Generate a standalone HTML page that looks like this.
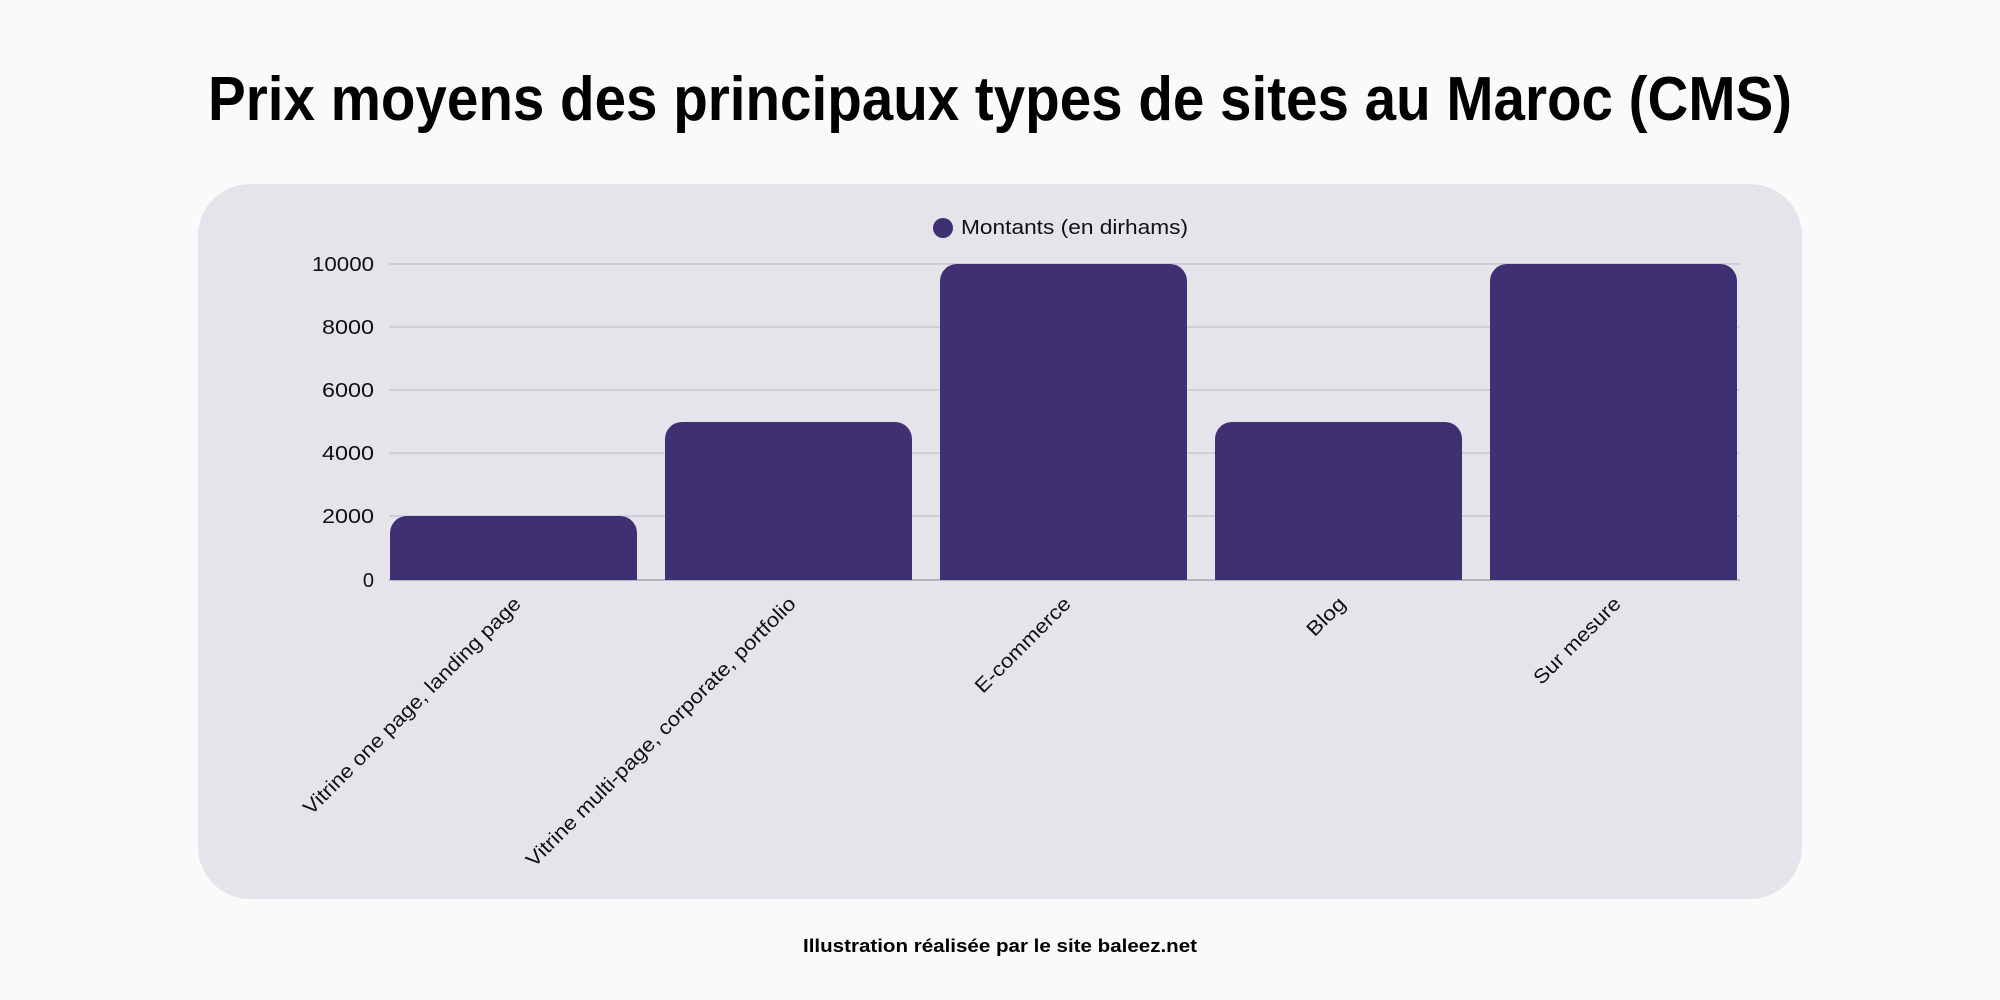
<!DOCTYPE html>
<html><head><meta charset="utf-8"><style>
html,body{margin:0;padding:0;background:#fafafa;}
svg{display:block;}
</style></head><body>
<svg width="2000" height="1000" xmlns="http://www.w3.org/2000/svg" font-family="Liberation Sans, sans-serif">
<rect width="2000" height="1000" fill="#fafafa"/>
<text x="1000" y="120" text-anchor="middle" font-size="62" font-weight="bold" fill="#000" textLength="1584" lengthAdjust="spacingAndGlyphs">Prix moyens des principaux types de sites au Maroc (CMS)</text>
<rect x="198" y="184" width="1604" height="715" rx="52" fill="#e5e4eb"/>
<circle cx="943" cy="228" r="10" fill="#3f3073"/>
<text x="961" y="234" font-size="20" fill="#111" textLength="227" lengthAdjust="spacingAndGlyphs">Montants (en dirhams)</text>
<g stroke="#c2c1ca" stroke-width="1.2">
<line x1="389" y1="264" x2="1740" y2="264"/>
<line x1="389" y1="327" x2="1740" y2="327"/>
<line x1="389" y1="390" x2="1740" y2="390"/>
<line x1="389" y1="453" x2="1740" y2="453"/>
<line x1="389" y1="516" x2="1740" y2="516"/>
<line x1="389" y1="580" x2="1740" y2="580" stroke="#9a99a3"/>
</g>
<g font-size="20" fill="#111" text-anchor="end">
<text x="374" y="271" textLength="62" lengthAdjust="spacingAndGlyphs">10000</text>
<text x="374" y="334" textLength="52" lengthAdjust="spacingAndGlyphs">8000</text>
<text x="374" y="397" textLength="52" lengthAdjust="spacingAndGlyphs">6000</text>
<text x="374" y="460" textLength="52" lengthAdjust="spacingAndGlyphs">4000</text>
<text x="374" y="523" textLength="52" lengthAdjust="spacingAndGlyphs">2000</text>
<text x="374" y="587">0</text>
</g>
<g fill="#3f3073">
<path d="M390 580 V533 a17 17 0 0 1 17 -17 H620 a17 17 0 0 1 17 17 V580 Z"/>
<path d="M665 580 V439 a17 17 0 0 1 17 -17 H895 a17 17 0 0 1 17 17 V580 Z"/>
<path d="M940 580 V281 a17 17 0 0 1 17 -17 H1170 a17 17 0 0 1 17 17 V580 Z"/>
<path d="M1215 580 V439 a17 17 0 0 1 17 -17 H1445 a17 17 0 0 1 17 17 V580 Z"/>
<path d="M1490 580 V281 a17 17 0 0 1 17 -17 H1720 a17 17 0 0 1 17 17 V580 Z"/>
</g>
<g font-size="20" fill="#111" text-anchor="end">
<text transform="translate(522,605) rotate(-45)" textLength="298" lengthAdjust="spacingAndGlyphs">Vitrine one page, landing page</text>
<text transform="translate(797,605) rotate(-45)" textLength="372" lengthAdjust="spacingAndGlyphs">Vitrine multi-page, corporate, portfolio</text>
<text transform="translate(1072,605) rotate(-45)" textLength="126" lengthAdjust="spacingAndGlyphs">E-commerce</text>
<text transform="translate(1347,605) rotate(-45)" textLength="46" lengthAdjust="spacingAndGlyphs">Blog</text>
<text transform="translate(1622,605) rotate(-45)" textLength="114" lengthAdjust="spacingAndGlyphs">Sur mesure</text>
</g>
<text x="1000" y="952" text-anchor="middle" font-size="18" font-weight="bold" fill="#000" textLength="394" lengthAdjust="spacingAndGlyphs">Illustration réalisée par le site baleez.net</text>
</svg>
</body></html>
